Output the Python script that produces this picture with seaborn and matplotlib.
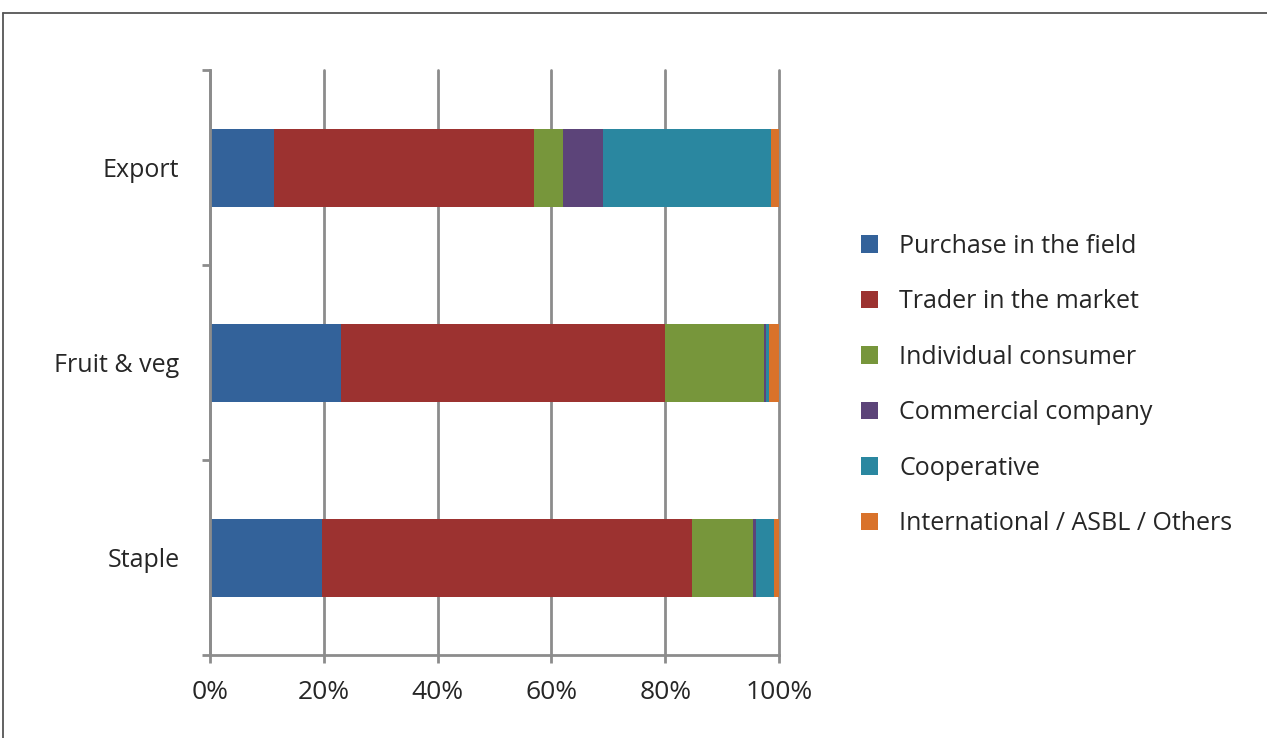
import matplotlib
matplotlib.use("Agg")
import matplotlib.pyplot as plt
from matplotlib.patches import Patch
from matplotlib.lines import Line2D
from matplotlib.ticker import FixedLocator, PercentFormatter
import numpy as np
import pandas as pd
import seaborn as sns

# Share of sales by buyer type (%), per product group
products = ["Export", "Fruit & veg", "Staple"]
channels = [
    "Purchase in the field",
    "Trader in the market",
    "Individual consumer",
    "Commercial company",
    "Cooperative",
    "International / ASBL / Others",
]
purchase_field = [11.3, 23.0, 19.7]
trader_market = [45.7, 57.0, 65.0]
individual_consumer = [5.1, 17.4, 10.8]
commercial_company = [7.0, 0.4, 0.4]
cooperative = [29.5, 0.4, 3.2]
international_other = [1.4, 1.8, 0.9]
colors = ["#33629a", "#9c3230", "#77963b", "#5c4479", "#2a87a0", "#d9722a"]
x_ticks = [0, 20, 40, 60, 80, 100]

series = [purchase_field, trader_market, individual_consumer,
          commercial_company, cooperative, international_other]
values = np.array(series, dtype=float)
cumulative = np.cumsum(values, axis=0)

sns.set_theme(style="white")
plt.rcParams["font.family"] = ["Open Sans", "DejaVu Sans"]
text_color = "#262626"
grid_color = "#8c8c8c"

fig = plt.figure(figsize=(12.67, 7.38), dpi=100)
ax = fig.add_axes([210 / 1267, 1 - 655 / 738, 569 / 1267, 585 / 738])

# Stacked bars: draw cumulative totals from the outermost segment inward
for i in range(len(channels) - 1, -1, -1):
    df = pd.DataFrame({"product": products, "end": cumulative[i]})
    sns.barplot(data=df, x="end", y="product", orient="h", color=colors[i],
                width=0.4, saturation=1, ax=ax, zorder=3, linewidth=0)

ax.set_xlim(0, 100)
ax.set_ylim(2.5, -0.5)
ax.set_xlabel("")
ax.set_ylabel("")

ax.xaxis.set_major_locator(FixedLocator(x_ticks))
ax.xaxis.set_major_formatter(PercentFormatter(decimals=0))
ax.grid(axis="x", color=grid_color, linewidth=2, zorder=0)
ax.grid(axis="y", visible=False)
for gl in ax.get_xgridlines():
    gl.set_clip_on(False)
ax.tick_params(axis="x", which="major", direction="out", length=6, width=2,
               color=grid_color, pad=12, labelsize=19, labelcolor=text_color,
               bottom=True)

ax.set_yticks(range(len(products)))
ax.set_yticklabels(products)
ax.yaxis.set_minor_locator(FixedLocator([-0.5, 0.5, 1.5, 2.5]))
ax.tick_params(axis="y", which="major", length=0, pad=22, labelsize=18,
               labelcolor=text_color)
ax.tick_params(axis="y", which="minor", direction="out", length=6, width=2,
               color=grid_color, left=True)

for side in ["top", "right"]:
    ax.spines[side].set_visible(False)
for side in ["left", "bottom"]:
    ax.spines[side].set_color(grid_color)
    ax.spines[side].set_linewidth(2)
    ax.spines[side].set_zorder(4)

handles = [Patch(facecolor=c, edgecolor="none") for c in colors]
fig.legend(handles, channels, loc="center left",
           bbox_to_anchor=(861 / 1267, 1 - 385 / 738),
           bbox_transform=fig.transFigure, frameon=False, fontsize=18,
           handlelength=0.68, handleheight=0.68, handletextpad=0.85,
           labelspacing=1.22, borderpad=0, borderaxespad=0,
           labelcolor=text_color)

# Outer frame line along the top and left edges
fig.add_artist(Line2D([3 / 1267, 1.0], [1 - 13 / 738, 1 - 13 / 738],
                      transform=fig.transFigure, color="#555555", linewidth=1.3))
fig.add_artist(Line2D([3 / 1267, 3 / 1267], [0.0, 1 - 13 / 738],
                      transform=fig.transFigure, color="#555555", linewidth=1.3))

fig.savefig("out.png", dpi=100, facecolor="white")
